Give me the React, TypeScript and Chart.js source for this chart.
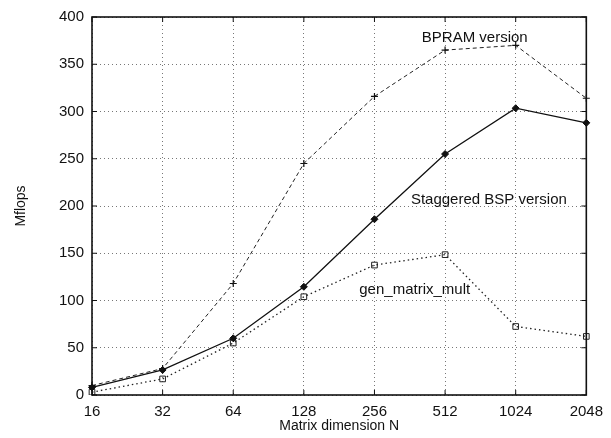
import React, { useEffect, useRef } from "react";
import { Chart, registerables } from "chart.js";

Chart.register(...registerables);

const categories = ["16", "32", "64", "128", "256", "512", "1024", "2048"];
const bpram = [10, 28, 118, 245, 316, 365, 370, 314];
const staggered = [8, 26.5, 60, 114.5, 186, 255, 303.5, 288];
const genMatrix = [3, 17, 55, 104, 137.5, 148.5, 72.5, 62];
const yTicks = [0, 50, 100, 150, 200, 250, 300, 350, 400];

const annotations = [
  { text: "BPRAM version", x: 5.42, y: 378 },
  { text: "Staggered BSP version", x: 5.62, y: 207 },
  { text: "gen_matrix_mult", x: 4.57, y: 111 },
];

const FONT = "'Liberation Sans', Arial, Helvetica, sans-serif";

const framePlugin = {
  id: "frame",
  afterDatasetsDraw(chart: any) {
    const { ctx, chartArea, scales } = chart;
    const { left, right, top, bottom } = chartArea;
    ctx.save();
    ctx.strokeStyle = "#111";
    ctx.lineWidth = 1;
    // inward ticks
    const tl = 5;
    ctx.beginPath();
    scales.y.ticks.forEach((_t: any, i: number) => {
      const py = scales.y.getPixelForTick(i);
      ctx.moveTo(left, py);
      ctx.lineTo(left + tl, py);
      ctx.moveTo(right, py);
      ctx.lineTo(right - tl, py);
    });
    scales.x.ticks.forEach((_t: any, i: number) => {
      const px = scales.x.getPixelForTick(i);
      ctx.moveTo(px, bottom);
      ctx.lineTo(px, bottom - tl);
      ctx.moveTo(px, top);
      ctx.lineTo(px, top + tl);
    });
    ctx.stroke();
    ctx.lineWidth = 1.6;
    ctx.strokeRect(left, top, right - left, bottom - top);
    // annotations
    ctx.fillStyle = "#111";
    ctx.font = `15px ${FONT}`;
    ctx.textAlign = "center";
    ctx.textBaseline = "middle";
    annotations.forEach((a) => {
      const px = scales.x.getPixelForValue(a.x);
      const py = scales.y.getPixelForValue(a.y);
      ctx.fillText(a.text, px, py);
    });
    ctx.restore();
  },
};

export default function App() {
  const ref = useRef<HTMLCanvasElement>(null);
  useEffect(() => {
    if (!ref.current) return;
    const chart = new Chart(ref.current, {
      type: "line",
      data: {
        labels: categories,
        datasets: [
          {
            label: "BPRAM version",
            data: bpram,
            borderColor: "#222",
            borderWidth: 1,
            borderDash: [4, 3],
            pointStyle: "cross",
            pointRadius: 3.5,
            pointBorderColor: "#111",
            pointBorderWidth: 1.2,
            backgroundColor: "#111",
            fill: false,
            tension: 0,
          },
          {
            label: "Staggered BSP version",
            data: staggered,
            borderColor: "#111",
            borderWidth: 1.3,
            pointStyle: "rectRot",
            pointRadius: 3.5,
            pointBackgroundColor: "#111",
            pointBorderColor: "#111",
            pointBorderWidth: 1,
            fill: false,
            tension: 0,
          },
          {
            label: "gen_matrix_mult",
            data: genMatrix,
            borderColor: "#222",
            borderWidth: 1.3,
            borderDash: [1.5, 3],
            pointStyle: "rect",
            pointRadius: 4,
            pointBackgroundColor: "rgba(255,255,255,0)",
            pointBorderColor: "#222",
            pointBorderWidth: 1,
            fill: false,
            tension: 0,
          },
        ],
      },
      options: {
        animation: false,
        responsive: false,
        maintainAspectRatio: false,
        layout: { padding: { left: 0, right: 23, top: 15, bottom: 0 } },
        plugins: {
          legend: { display: false },
          tooltip: { enabled: false },
        },
        scales: {
          x: {
            type: "category",
            offset: false,
            grid: {
              display: true,
              color: "#777",
              lineWidth: 1,
              drawTicks: false,
            },
            border: { display: false, dash: [1, 3] },
            ticks: {
              color: "#111",
              font: { family: FONT, size: 15 },
              padding: 8,
              maxRotation: 0,
              autoSkip: false,
            },
            title: {
              display: true,
              text: "Matrix dimension N",
              color: "#111",
              font: { family: FONT, size: 14 },
              padding: { top: 0, bottom: 3 },
            },
            afterFit: (s: any) => {
              s.height = 43;
            },
          },
          y: {
            min: 0,
            max: 400,
            afterBuildTicks: (s: any) => {
              s.ticks = yTicks.map((v) => ({ value: v }));
            },
            grid: {
              display: true,
              color: "#777",
              lineWidth: 1,
              drawTicks: false,
            },
            border: { display: false, dash: [1, 3] },
            ticks: {
              color: "#111",
              font: { family: FONT, size: 15 },
              padding: 8,
            },
            title: {
              display: true,
              text: "Mflops",
              color: "#111",
              font: { family: FONT, size: 14 },
              padding: { top: 13, bottom: 0 },
            },
            afterFit: (s: any) => {
              s.width = 92;
            },
          },
        },
      },
      plugins: [framePlugin],
    });
    return () => chart.destroy();
  }, []);
  return (
    <div
      style={{
        position: "fixed",
        left: 0,
        top: 0,
        width: 611,
        height: 438,
        background: "#fff",
      }}
    >
      <canvas ref={ref} width={611} height={438} style={{ display: "block" }} />
    </div>
  );
}
